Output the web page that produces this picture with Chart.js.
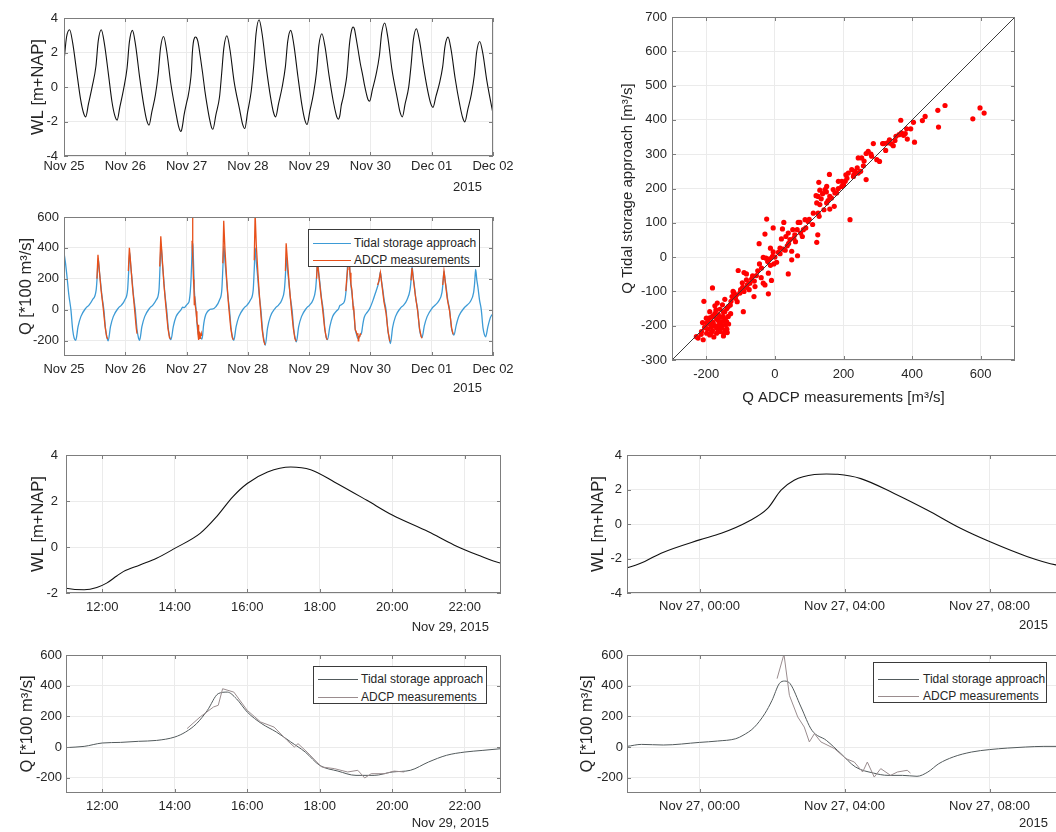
<!DOCTYPE html>
<html>
<head>
<meta charset="utf-8">
<script src="https://cdn.jsdelivr.net/npm/chart.js@4.4.1/dist/chart.umd.min.js"></script>
<style>
  html, body { margin: 0; padding: 0; background: #fff; overflow: hidden; }
  #page { position: relative; width: 1056px; height: 832px; overflow: hidden; }
  #page canvas { position: absolute; }
  .note { position: absolute; font: 13px/16px "Liberation Sans", Arial, sans-serif; color: #262626; white-space: nowrap; }
  .lgd { position: absolute; background: #fff; border: 1px solid #3a3a3a; box-sizing: border-box; }
  .lgd span { position: absolute; font: 12px/14px "Liberation Sans", Arial, sans-serif; color: #262626; white-space: nowrap; }
  .lgd i { position: absolute; height: 1px; }
</style>
</head>
<body>
<div id="page">
  <canvas id="wlTop" width="530" height="200" style="left:0;top:0"></canvas>
  <canvas id="qTop" width="530" height="200" style="left:0;top:200px"></canvas>
  <canvas id="scatter" width="496" height="420" style="left:560px;top:0"></canvas>
  <canvas id="wlNov29" width="520" height="205" style="left:0;top:430px"></canvas>
  <canvas id="qNov29" width="520" height="192" style="left:0;top:640px"></canvas>
  <canvas id="wlNov27" width="520" height="205" style="left:560px;top:430px"></canvas>
  <canvas id="qNov27" width="520" height="192" style="left:560px;top:640px"></canvas>
</div>
<script>
// hours since Nov 25 2015 00:00

// ── water level ─────────────────────────────────────────────────────────────
const wlHours = [
  0, 1.0, 2.2, 3.4, 5.0, 6.5, 7.6, 8.5,
  9.6, 11.0, 12.5, 13.4, 14.6, 15.8, 17.4, 18.8, 19.9, 20.8,
  21.9, 23.3, 24.7, 25.6, 26.8, 28.0, 29.6, 31.3, 32.4, 33.3,
  34.4, 35.8, 36.9, 37.8, 39.0, 40.2, 41.8, 43.8, 44.9, 45.8,
  46.03, 46.49, 46.94, 48.0, 48.6, 49.33, 49.88, 50.25, 50.61, 51.17, 51.5, 51.81,
  52.45, 53.37, 54.28, 55.2, 56.0, 57.03, 57.83, 58.3,
  59.5, 60.9, 61.7, 62.6, 63.8, 65.0, 66.6, 68.8, 69.9, 70.8,
  71.9, 73.3, 74.3, 75.2, 76.4, 77.6, 79.2, 80.9, 82.0, 82.9,
  84.0, 85.4, 86.7, 87.6, 88.8, 90.0, 91.6, 93.2, 94.3, 95.2,
  96.3, 97.7, 98.9, 99.8, 101.0, 102.2, 103.8, 105.5, 106.6,
  107.0, 107.5, 107.85, 108.12, 108.4, 108.58, 109.04, 109.5, 110.0, 110.7, 111.15, 111.6,
  112.0, 112.56, 113.2, 113.75, 114.4, 115.3, 116.0, 117.0, 117.7, 118.36, 119.0, 119.7,
  120.8, 122.2, 123.5, 124.4, 125.6, 126.8, 128.4, 130.5, 131.6, 132.5,
  133.6, 135.0, 135.9, 136.8, 138.0, 139.2, 140.8, 142.5, 143.6, 144.5,
  145.6, 147.0, 148.3, 149.2, 150.4, 151.6, 153.2, 155.0, 156.1, 157.0,
  158.1, 159.5, 160.7, 161.6, 162.8, 164.0, 165.6, 168.0
];
const wlLevel = [
  1.5, 2.9, 3.32, 2.56, 0.85, -0.72, -1.48, -1.73,
  -0.97, -0.01, 1.20, 2.66, 3.32, 2.53, 0.75, -0.87, -1.66, -1.92,
  -1.14, -0.15, 1.10, 2.60, 3.28, 2.46, 0.59, -1.11, -1.94, -2.21,
  -1.44, -0.46, 0.77, 2.26, 2.93, 2.10, 0.23, -1.48, -2.30, -2.58,
  -2.52, -2.17, -1.69, -0.92, -0.54, 0.13, 0.90, 1.96, 2.54, 2.87, 2.90, 2.88,
  2.63, 1.77, 0.81, -0.25, -1.02, -1.88, -2.37, -2.45,
  -1.60, -0.58, 0.71, 2.27, 2.97, 2.16, 0.33, -1.33, -2.14, -2.41,
  -1.46, -0.26, 1.25, 3.08, 3.90, 3.06, 1.14, -0.60, -1.45, -1.73,
  -0.98, -0.03, 1.18, 2.63, 3.28, 2.46, 0.61, -1.08, -1.90, -2.17,
  -1.38, -0.38, 0.88, 2.41, 3.09, 2.35, 0.66, -0.87, -1.61,
  -1.79, -1.86, -1.76, -1.57, -1.26, -1.07, -0.78, -0.49, -0.06, 0.59, 1.31, 2.18,
  2.76, 3.26, 3.48, 3.36, 2.83, 2.03, 1.39, 0.66, 0.09, -0.35, -0.71, -0.82,
  -0.14, 0.72, 1.81, 3.12, 3.71, 2.89, 1.04, -0.64, -1.46, -1.73,
  -0.96, 0.01, 1.23, 2.72, 3.38, 2.70, 1.15, -0.27, -0.95, -1.18,
  -0.57, 0.20, 1.18, 2.36, 2.89, 2.15, 0.48, -1.04, -1.77, -2.02,
  -1.32, -0.44, 0.68, 2.03, 2.64, 1.96, 0.35, -1.55
];

// ── discharge, tidal storage approach [*100 m3/s] ───────────────────────────
const qHours = [
  0, 0.6, 1.2, 1.9, 2.7, 3.4, 4.0, 4.6, 5.5, 6.6, 8.5, 9.8, 11.1,
  12.6, 13.0, 13.4, 13.85, 14.3, 14.9, 15.6, 16.3, 16.9, 17.3, 18.2, 19.3, 21.2, 22.5, 23.8,
  24.9, 25.3, 25.7, 26.15, 26.6, 27.2, 27.9, 28.6, 29.2, 29.6, 30.5, 31.6, 33.5, 34.8, 36.1,
  37.2, 37.6, 38.0, 38.45, 38.9, 39.5, 40.2, 40.9, 41.5, 41.9, 42.8, 43.9,
  46.0, 46.4, 47.0, 48.0, 48.5, 49.0, 49.2, 49.5, 49.8, 50.0, 50.2, 50.35, 50.5, 50.8, 51.1, 51.5,
  51.9, 52.3, 52.8, 53.2, 53.6, 54.0, 54.3, 54.6, 55.0, 55.5, 56.0, 56.5, 57.0, 57.5, 58.0,
  59.5, 60.9, 61.8, 62.2, 62.6, 63.05, 63.5, 64.1, 64.8, 65.5, 66.1, 66.5, 67.4, 68.5, 70.4, 71.7, 73.0,
  74.1, 74.5, 74.9, 75.35, 75.8, 76.4, 77.1, 77.8, 78.4, 78.8, 79.7, 80.8, 82.7, 84.0, 85.3,
  86.3, 86.7, 87.1, 87.55, 88.0, 88.6, 89.3, 90.0, 90.6, 91.0, 91.9, 93.0, 94.9, 96.2, 97.5,
  98.5, 98.9, 99.3, 99.75, 100.2, 100.8, 101.5, 102.2, 102.8, 103.2, 104.1, 105.2,
  107.0, 107.5, 108.0, 108.5, 109.0, 109.5, 110.0, 110.3, 110.6, 110.9, 111.2, 111.45, 111.7, 112.0,
  112.4, 112.8, 113.2, 113.6, 114.0, 114.5, 115.0, 115.5, 116.0, 116.5, 117.0, 117.5, 118.0, 118.5, 119.0,
  119.8, 121.0, 122.0, 122.8, 123.4, 123.9, 124.35, 124.8, 125.4, 126.1, 126.8, 127.4, 127.8, 128.7, 129.8, 131.7, 133.0, 134.3,
  135.5, 135.9, 136.3, 136.75, 137.2, 137.8, 138.5, 139.2, 139.8, 140.2, 141.1, 142.2, 144.1, 145.4, 146.7,
  148.0, 148.4, 148.8, 149.25, 149.7, 150.3, 151.0, 151.7, 152.3, 152.7, 153.6, 154.7, 156.6, 157.9, 159.2,
  160.4, 160.8, 161.2, 161.65, 162.1, 162.7, 163.4, 164.1, 164.7, 165.1, 166.0, 167.0, 168.0
];
const qTidal = [
  370, 300, 210, 95, 0, -130, -185, -198, -110, -45, 9, 30, 63,
  128, 215, 330, 250, 180, 85, 0, -130, -185, -202, -110, -45, 9, 30, 63,
  128, 240, 370, 280, 205, 95, 0, -130, -185, -198, -110, -45, 9, 30, 63,
  128, 275, 420, 315, 230, 105, 0, -130, -185, -194, -110, -45,
  4, 17, 13, 30, 39, 54, 76, 126, 217, 304, 413, 430, 413, 261, 109, 43,
  -43, -130, -170, -185, -185, -191, -163, -109, -65, -33, -17, -7, 0, 4, 4,
  20, 63, 128, 265, 410, 310, 225, 100, 0, -130, -185, -198, -110, -45, 9, 30, 63,
  128, 260, 400, 300, 220, 100, 0, -140, -205, -231, -120, -45, 9, 30, 63,
  128, 220, 340, 255, 187, 85, 0, -130, -190, -209, -110, -45, 9, 30, 63,
  128, 210, 320, 240, 175, 80, 0, -130, -185, -194, -110, -45,
  -4, 4, 26, 30, 37, 43, 65, 98, 152, 239, 348, 358, 315, 228,
  152, 98, 33, -33, -120, -157, -185, -185, -163, -152, -98, -54, -33, -22, -11,
  10, 60, 110, 150, 190, 245, 185, 135, 60, 0, -130, -190, -220, -115, -45, 9, 30, 63,
  128, 190, 280, 210, 155, 70, 0, -125, -170, -181, -105, -45, 9, 30, 55,
  110, 170, 250, 190, 140, 60, 0, -115, -155, -165, -100, -40, 9, 30, 55,
  110, 170, 260, 195, 145, 65, 0, -120, -165, -176, -110, -50, -25
];

// ── discharge, ADCP measurements (null = no measurement) ────────────────────
const adcpHours = [
  12.9, 13.3, 13.8, 14.5, 15.3, 16.1, 16.7, 17.1, 17.5,
  25.2, 25.6, 26.1, 26.8, 27.6, 28.3, 28.6, 29,
  37.5, 37.9, 38.4, 39.1, 39.9, 40.7, 41.3, 41.7, 42,
  50.14, 50.33, 50.48, 50.71, 50.89, 51.03, 51.17, 51.35, 51.72, 52.04, 52.27, 52.5,
  52.63, 52.82, 53.0, 53.27, 53.46, 53.73, 53.82, 54,
  62.2, 62.55, 63.0, 63.7, 64.5, 65.3, 65.9, 66.3, 66.6,
  74.5, 74.85, 75.3, 76.0, 76.8, 77.6, 78.2, 78.7, 79,
  86.7, 87.0, 87.5, 88.2, 89.0, 89.8, 90.4, 90.9, 91.2,
  98.9, 99.25, 99.75, 100.5, 101.3, 102.1, 102.7, 103.1, 103.4,
  110.34, 110.7, 111.07, 111.2, 111.32, 111.63, 112.0, 112.37, 112.74, 113.1, 113.3,
  113.4, 113.65, 114.05, 114.4, 114.77, 115.05, 115.24, 115.42, 115.8, 116.05, 116.33, 117,
  122.8, 123.3, 123.9, 124.5, 125.3, 126.1, 126.9, 127.6, 128,
  135.9, 136.3, 136.8, 137.6, 138.5, 139.3, 139.9, 140.2, 140.5,
  148.3, 148.8, 149.3, 150.1, 151.0, 151.8, 152.4
];
const adcpQ = [
  200, 355, 260, 130, 20, -110, -175, -190, null,
  250, 400, 300, 150, 10, -120, -155, null,
  280, 475, 350, 170, 20, -120, -180, -190, null,
  446, 605, 337, 196, 130, 33, 87, 33, -10, -76, -98, -163,
  -98, -196, -141, -185, -163, -152, -170, null,
  300, 575, 400, 200, 20, -120, -180, -195, null,
  320, 625, 420, 220, 30, -130, -200, -228, null,
  250, 430, 320, 160, 10, -120, -185, -205, null,
  200, 310, 230, 110, 0, -125, -180, -195, null,
  120, 196, 261, 272, 380, 358, 239, 163, 130, 43, 0,
  22, -33, -130, -141, -163, -152, -202, -174, -174, -157, -163, null,
  160, 185, 240, 160, 50, -20, -140, -205, null,
  190, 270, 200, 90, -10, -130, -175, -185, null,
  160, 250, 180, 70, -10, -120, -160
];

// ── scatter: ADCP vs tidal storage [m3/s] ───────────────────────────────────
const scatterAdcp = [
  598, 610, 577, 496, 475, 477, 438, 430, 404, 407, 384, 396, 386, 367, 369, 362, 353, 345, 334, 328,
  318, 314, 323, 297, 305, 287, 282, 272, 266, 253, 243, 258, 266, 243, 233, 229, 214, 207, 205, 224,
  219, 195, 195, 185, 180, 170, 160, 159, 151, 146, 139, 131, 128, 126, 120, 122, 131, 143, 151, 165,
  173, 160, 175, 126, 129, 125, 122, 112, 97, 88, 83, 73, 65, 68, 58, 52, 44, 39, 32, 26,
  22, 19, 36, 24, 15, 10, 49, 49, 39, 66, -13, -7, -3, -13, -19, -10, -21, -26, -34, -24,
  -5, -29, -46, -39, -29, -19, -34, -54, -58, -61, -68, -73, -83, -83, -90, -83, -94, -107, -92, -102,
  -112, -120, -125, -122, -128, -136, -146, -146, -153, -160, -168, -175, -180, -182, -190, -192, -199, -200, -207, -211,
  -214, -209, -224, -229, -199, -190, -178, -170, -160, -146, -141, -139, -153, -165, -175, -185, -163, -151, -136, -129,
  -165, -172, -182, -195, -201, -156, -149, -170, -158, -143,
  100, 110, 90, 135, 150, 155, 185, 200, 210, 240, 250, 230, 260, 280, 340, 350, 375, 380,
  -50, -60, -100, -115, -110, -130, -140, -150, -170, -180, -190, -160, -145, -175, -185, -155, -135, -195, -205, -215,
  -185, -165, -140, -150, 0, 5, 15, 30, 40, 55, 60, 75, 80, -5, -15, -40, -45, -65, -75, -80, -90, -95
];
const scatterTidal = [
  435, 420, 403, 442, 428, 379, 410, 398, 393, 335, 374, 374, 344, 399, 362, 357, 352, 325, 342, 333,
  331, 331, 311, 284, 279, 331, 294, 308, 302, 289, 289, 266, 226, 245, 250, 235, 245, 240, 221, 255,
  109, 221, 206, 221, 187, 197, 177, 241, 206, 197, 185, 195, 218, 177, 179, 158, 153, 138, 158, 172,
  148, 140, 187, 128, 119, 65, 43, 128, 104, 109, 80, 101, 80, 101, 65, 80, 51, 70, 60, 101,
  82, 53, 33, 23, 26, 14, 17, -8, -49, 4, 26, 2, -20, -24, -47, -68, -13, -3, -1, 111,
  85, 67, 39, -32, -81, -107, -76, -54, -86, -115, -64, -76, -49, -66, -45, -88, -88, -39, -159, -105,
  -110, -103, -115, -100, -129, -144, -123, -159, -139, -152, -134, -142, -171, -90, -159, -178, -193, -178, -129, -191,
  -217, -241, -236, -232, -222, -227, -233, -207, -217, -212, -188, -220, -188, -185, -200, -202, -198, -173, -173, -165,
  -168, -154, -214, -210, -207, -207, -222, -222, -175, -197,
  110, 95, 85, 170, 190, 165, 200, 210, 230, 260, 250, 240, 280, 300, 330, 340, 355, 360,
  -40, -70, -95, -120, -130, -140, -150, -160, -180, -190, -195, -190, -180, -165, -175, -200, -195, -185, -205, -225,
  -220, -215, -210, -230, 0, -15, 10, 20, 40, 55, 45, 70, 60, 15, -5, -60, -20, -55, -95, -80, -100, -75
];
const oneToOne = [-300, 700];

// ── ticks ───────────────────────────────────────────────────────────────────
const dayTicks = [0, 24, 48, 72, 96, 120, 144, 168];
const dayLabels = ['Nov 25', 'Nov 26', 'Nov 27', 'Nov 28', 'Nov 29', 'Nov 30', 'Dec 01', 'Dec 02'];
const nov29Ticks = [108, 110, 112, 114, 116, 118];
const nov29Labels = ['12:00', '14:00', '16:00', '18:00', '20:00', '22:00'];
const nov27Ticks = [48, 52, 56];
const nov27Labels = ['Nov 27, 00:00', 'Nov 27, 04:00', 'Nov 27, 08:00'];
const wlTicks = [-4, -2, 0, 2, 4];
const wlTicksNov29 = [-2, 0, 2, 4];
const qTicks = [-200, 0, 200, 400, 600];
const scatterXTicks = [-200, 0, 200, 400, 600];
const scatterYTicks = [-300, -200, -100, 0, 100, 200, 300, 400, 500, 600, 700];

// ── helpers ─────────────────────────────────────────────────────────────────
Chart.defaults.font.family = '"Liberation Sans", Arial, sans-serif';
Chart.defaults.color = '#262626';

const GRID = '#ebebeb';
const BOX = '#7d7d7d';

function toPoints(xs, ys) {
  return xs.map((x, i) => ({ x: x, y: ys[i] }));
}

// MATLAB-like axes box with inward tick marks
const boxPlugin = {
  id: 'box',
  afterDatasetsDraw(chart) {
    const { ctx, chartArea: a, scales } = chart;
    ctx.save();
    ctx.strokeStyle = BOX;
    ctx.lineWidth = 1;
    ctx.strokeRect(Math.round(a.left) + 0.5, Math.round(a.top) + 0.5,
                   Math.round(a.width) - 1, Math.round(a.height) - 1);
    ctx.beginPath();
    scales.x.ticks.forEach(function (t) {
      const px = Math.round(scales.x.getPixelForValue(t.value)) + 0.5;
      ctx.moveTo(px, a.bottom); ctx.lineTo(px, a.bottom - 4);
      ctx.moveTo(px, a.top); ctx.lineTo(px, a.top + 4);
    });
    scales.y.ticks.forEach(function (t) {
      const py = Math.round(scales.y.getPixelForValue(t.value)) + 0.5;
      ctx.moveTo(a.left, py); ctx.lineTo(a.left + 4, py);
      ctx.moveTo(a.right, py); ctx.lineTo(a.right - 4, py);
    });
    ctx.stroke();
    ctx.restore();
  }
};

function axis(min, max, ticks, labels, pad, fixSize, horizontal, title) {
  return {
    type: 'linear',
    min: min,
    max: max,
    afterBuildTicks: function (s) { s.ticks = ticks.map(v => ({ value: v })); },
    afterFit: function (s) { if (horizontal) s.height = fixSize; else s.width = fixSize; },
    ticks: {
      autoSkip: false,
      maxRotation: 0,
      padding: pad,
      font: { size: 13 },
      callback: function (v) {
        const i = ticks.indexOf(v);
        return i >= 0 ? labels[i] : '';
      }
    },
    grid: { color: GRID, drawTicks: false },
    border: { display: false },
    title: title || { display: false }
  };
}

function timePanel(id, c) {
  new Chart(document.getElementById(id), {
    type: 'line',
    data: { datasets: c.datasets },
    options: {
      responsive: false,
      animation: false,
      events: [],
      layout: { padding: { left: c.pad[0], top: c.pad[1], right: c.pad[2], bottom: 0 } },
      elements: { point: { radius: 0 } },
      plugins: { legend: { display: false }, tooltip: { enabled: false } },
      scales: {
        x: axis(c.xMin, c.xMax, c.xTicks, c.xLabels, c.xTickPad, c.xAxisHeight, true),
        y: axis(c.yMin, c.yMax, c.yTicks, c.yTicks.map(String), c.yTickPad, c.yAxisWidth, false, {
          display: true, text: c.yTitle, font: { size: 16.5 }, padding: { top: 0, bottom: 0 }
        })
      }
    },
    plugins: [boxPlugin]
  });
}

function wlDatasets() {
  return [{ data: toPoints(wlHours, wlLevel), borderColor: '#111', borderWidth: 1.1,
            cubicInterpolationMode: 'monotone' }];
}

function qDatasets(tidalColor, adcpColor, width) {
  return [
    { data: toPoints(adcpHours, adcpQ), borderColor: adcpColor, borderWidth: width, tension: 0, spanGaps: false },
    { data: toPoints(qHours, qTidal), borderColor: tidalColor, borderWidth: width, cubicInterpolationMode: 'monotone' }
  ];
}

const page = document.getElementById('page');

function note(text, right, cy) {
  const d = document.createElement('div');
  d.className = 'note';
  d.textContent = text;
  d.style.right = (1056 - right) + 'px';
  d.style.top = (cy - 8) + 'px';
  page.appendChild(d);
}

function legend(box, lineX, textX, rowY, colors, labels) {
  const d = document.createElement('div');
  d.className = 'lgd';
  d.style.cssText = 'left:' + box[0] + 'px;top:' + box[1] + 'px;width:' + box[2] + 'px;height:' + box[3] + 'px';
  labels.forEach(function (txt, i) {
    const ln = document.createElement('i');
    ln.style.cssText = 'left:' + (lineX[0] - box[0]) + 'px;width:' + (lineX[1] - lineX[0]) + 'px;top:' +
      (rowY[i] - box[1]) + 'px;background:' + colors[i];
    const s = document.createElement('span');
    s.textContent = txt;
    s.style.left = (textX - box[0]) + 'px';
    s.style.top = (rowY[i] - box[1] - 7) + 'px';
    d.appendChild(ln);
    d.appendChild(s);
  });
  page.appendChild(d);
}

const legendLabels = ['Tidal storage approach', 'ADCP measurements'];
const TOP_TIDAL = '#3d9bd6', TOP_ADCP = '#e8501a';
const ZOOM_TIDAL = '#525a5c', ZOOM_ADCP = '#9a8c8e';

// ── panels ──────────────────────────────────────────────────────────────────
timePanel('wlTop', {
  datasets: wlDatasets(), pad: [29, 18, 37],
  xMin: 0, xMax: 168, xTicks: dayTicks, xLabels: dayLabels, xTickPad: 3, xAxisHeight: 44,
  yMin: -4, yMax: 4, yTicks: wlTicks, yTickPad: 6, yAxisWidth: 35, yTitle: 'WL [m+NAP]'
});

timePanel('qTop', {
  datasets: qDatasets(TOP_TIDAL, TOP_ADCP, 1.3), pad: [17, 17, 37],
  xMin: 0, xMax: 168, xTicks: dayTicks, xLabels: dayLabels, xTickPad: 6, xAxisHeight: 44,
  yMin: -300, yMax: 600, yTicks: qTicks, yTickPad: 5, yAxisWidth: 47, yTitle: 'Q [*100 m³/s]'
});

timePanel('wlNov29', {
  datasets: wlDatasets(), pad: [29, 25, 19],
  xMin: 107, xMax: 119, xTicks: nov29Ticks, xLabels: nov29Labels, xTickPad: 7, xAxisHeight: 42,
  yMin: -2, yMax: 4, yTicks: wlTicksNov29, yTickPad: 8, yAxisWidth: 37, yTitle: 'WL [m+NAP]'
});

timePanel('qNov29', {
  datasets: qDatasets(ZOOM_TIDAL, ZOOM_ADCP, 1), pad: [18, 15, 19],
  xMin: 107, xMax: 119, xTicks: nov29Ticks, xLabels: nov29Labels, xTickPad: 6, xAxisHeight: 39,
  yMin: -300, yMax: 600, yTicks: qTicks, yTickPad: 4, yAxisWidth: 48, yTitle: 'Q [*100 m³/s]'
});

timePanel('wlNov27', {
  datasets: wlDatasets(), pad: [29, 25, 18],
  xMin: 46, xMax: 58, xTicks: nov27Ticks, xLabels: nov27Labels, xTickPad: 6, xAxisHeight: 42,
  yMin: -4, yMax: 4, yTicks: wlTicks, yTickPad: 5, yAxisWidth: 38, yTitle: 'WL [m+NAP]'
});

timePanel('qNov27', {
  datasets: qDatasets(ZOOM_TIDAL, ZOOM_ADCP, 1), pad: [18, 15, 18],
  xMin: 46, xMax: 58, xTicks: nov27Ticks, xLabels: nov27Labels, xTickPad: 6, xAxisHeight: 39,
  yMin: -300, yMax: 600, yTicks: qTicks, yTickPad: 4, yAxisWidth: 49, yTitle: 'Q [*100 m³/s]'
});

new Chart(document.getElementById('scatter'), {
  type: 'scatter',
  data: {
    datasets: [
      { data: oneToOne.map(v => ({ x: v, y: v })), showLine: true, borderColor: '#3c3c3c',
        borderWidth: 1, pointRadius: 0 },
      { data: toPoints(scatterAdcp, scatterTidal), backgroundColor: '#ff0000', borderWidth: 0,
        pointRadius: 2.6 }
    ]
  },
  options: {
    responsive: false,
    animation: false,
    events: [],
    layout: { padding: { left: 59, top: 17, right: 41, bottom: 13 } },
    plugins: { legend: { display: false }, tooltip: { enabled: false } },
    scales: {
      x: axis(-300, 700, scatterXTicks, scatterXTicks.map(String), 7, 47, true, {
        display: true, text: 'Q ADCP measurements [m³/s]', font: { size: 15 }, padding: { top: 0, bottom: 0 }
      }),
      y: axis(-300, 700, scatterYTicks, scatterYTicks.map(String), 5, 53, false, {
        display: true, text: 'Q Tidal storage approach [m³/s]', font: { size: 15 }, padding: { top: 0, bottom: 0 }
      })
    }
  },
  plugins: [boxPlugin]
});

// ── date notes and legends ──────────────────────────────────────────────────
note('2015', 482, 187);
note('2015', 482, 388);
note('Nov 29, 2015', 489, 627);
note('Nov 29, 2015', 489, 823);
note('2015', 1048, 625);
note('2015', 1048, 823);

legend([308, 229, 172, 38], [312, 350], 353, [242, 259], [TOP_TIDAL, TOP_ADCP], legendLabels);
legend([313, 666, 174, 38], [317, 357], 360, [678, 696], [ZOOM_TIDAL, ZOOM_ADCP], legendLabels);
legend([873, 662, 174, 41], [877, 918], 922, [678, 695], [ZOOM_TIDAL, ZOOM_ADCP], legendLabels);
</script>
</body>
</html>
